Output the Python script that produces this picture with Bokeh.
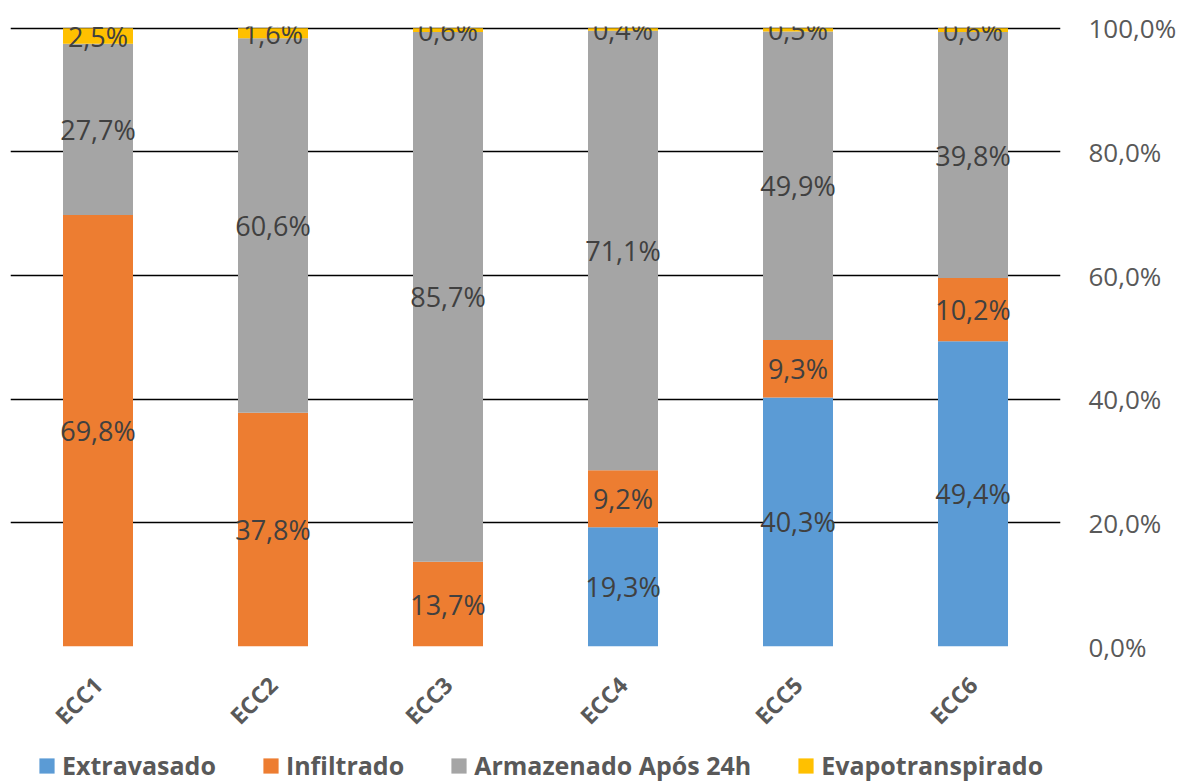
import math
from bokeh.plotting import figure
from bokeh.layouts import column
from bokeh.models import (ColumnDataSource, FactorRange, LabelSet, LinearAxis, Range1d,
                          FixedTicker, Grid, Legend, LegendItem, CustomJSTickFormatter)
from bokeh.core.properties import value
from bokeh.embed import file_html
from bokeh.resources import INLINE

categories = ["ECC1", "ECC2", "ECC3", "ECC4", "ECC5", "ECC6"]
extravasado = [0.0, 0.0, 0.0, 19.3, 40.3, 49.4]
infiltrado = [69.8, 37.8, 13.7, 9.2, 9.3, 10.2]
armazenado = [27.7, 60.6, 85.7, 71.1, 49.9, 39.8]
evapotranspirado = [2.5, 1.6, 0.6, 0.4, 0.5, 0.6]
series_names = ["Extravasado", "Infiltrado", "Armazenado Após 24h", "Evapotranspirado"]
series_colors = ["#5B9BD5", "#ED7D31", "#A5A5A5", "#FFC000"]
y_ticks = [0, 20, 40, 60, 80, 100]

FONT = "Open Sans"
series = [extravasado, infiltrado, armazenado, evapotranspirado]
keys = ["s0", "s1", "s2", "s3"]
data = {"cat": categories}
for k, s in zip(keys, series):
    data[k] = s
src = ColumnDataSource(data)

p = figure(x_range=FactorRange(*categories), y_range=Range1d(0, 100.3),
           width=1180, height=745, output_backend="svg", toolbar_location=None,
           y_axis_location=None, min_border_left=10, min_border_right=120,
           min_border_top=26, min_border_bottom=93)
p.outline_line_color = None
p.xgrid.visible = False

renderers = p.vbar_stack(keys, x="cat", width=0.4, color=series_colors, line_width=0, source=src)

# grid lines
p.add_layout(Grid(dimension=1, ticker=FixedTicker(ticks=y_ticks[1:]),
                  grid_line_color="black", grid_line_width=1.5))
p.add_layout(Grid(dimension=1, ticker=FixedTicker(ticks=y_ticks[:1]),
                  grid_line_color="#D9D9D9", grid_line_width=1.5))

# right axis
yax = LinearAxis(ticker=FixedTicker(ticks=y_ticks),
                 formatter=CustomJSTickFormatter(code="return tick.toFixed(1).replace('.', ',') + '%';"))
yax.axis_line_color = None
yax.major_tick_line_color = None
yax.minor_tick_line_color = None
yax.major_label_standoff = 22
yax.major_label_text_font = FONT
yax.major_label_text_font_size = "26px"
yax.major_label_text_color = "#595959"
p.add_layout(yax, "right")

# x axis
xax = p.xaxis[0]
xax.axis_line_color = None
xax.major_tick_line_color = None
xax.minor_tick_line_color = None
xax.major_label_orientation = math.pi / 4
xax.major_label_standoff = 28
xax.major_label_text_font = FONT
xax.major_label_text_font_style = "bold"
xax.major_label_text_font_size = "23px"
xax.major_label_text_color = "#595959"

# data labels
lx, ly, lt = [], [], []
for i, c in enumerate(categories):
    base = 0.0
    for s in series:
        v = s[i]
        if v > 0:
            lx.append(c)
            ly.append(base + v / 2)
            lt.append(f"{v:.1f}".replace(".", ",") + "%")
        base += v
lsrc = ColumnDataSource(dict(x=lx, y=ly, t=lt))
p.add_layout(LabelSet(x="x", y="y", text="t", source=lsrc, text_align="center",
                      text_baseline="middle", text_color="#404040",
                      text_font=value(FONT), text_font_size="27px"))

# legend in its own strip below the chart (same stacked data, drawn out of view)
pl = figure(width=1180, height=38, output_backend="svg", toolbar_location=None,
            x_range=FactorRange(*categories), y_range=Range1d(1000, 1001),
            x_axis_location=None, y_axis_location=None, min_border=0)
pl.outline_line_color = None
pl.grid.visible = False
leg_renderers = pl.vbar_stack(keys, x="cat", width=0.4, color=series_colors, line_width=0, source=src)
leg_items = [LegendItem(label=n, renderers=[r]) for n, r in zip(series_names, leg_renderers)]

legend = Legend(items=leg_items, orientation="horizontal", location=(27, 1),
                label_text_font=FONT, label_text_font_style="bold",
                label_text_font_size="25px", label_text_color="#595959",
                glyph_width=19, glyph_height=19, spacing=45, label_standoff=6,
                border_line_color=None, background_fill_alpha=0, padding=2, margin=0)
pl.add_layout(legend, "center")

open("out.html", "w").write(file_html(column(p, pl, spacing=0), INLINE))
